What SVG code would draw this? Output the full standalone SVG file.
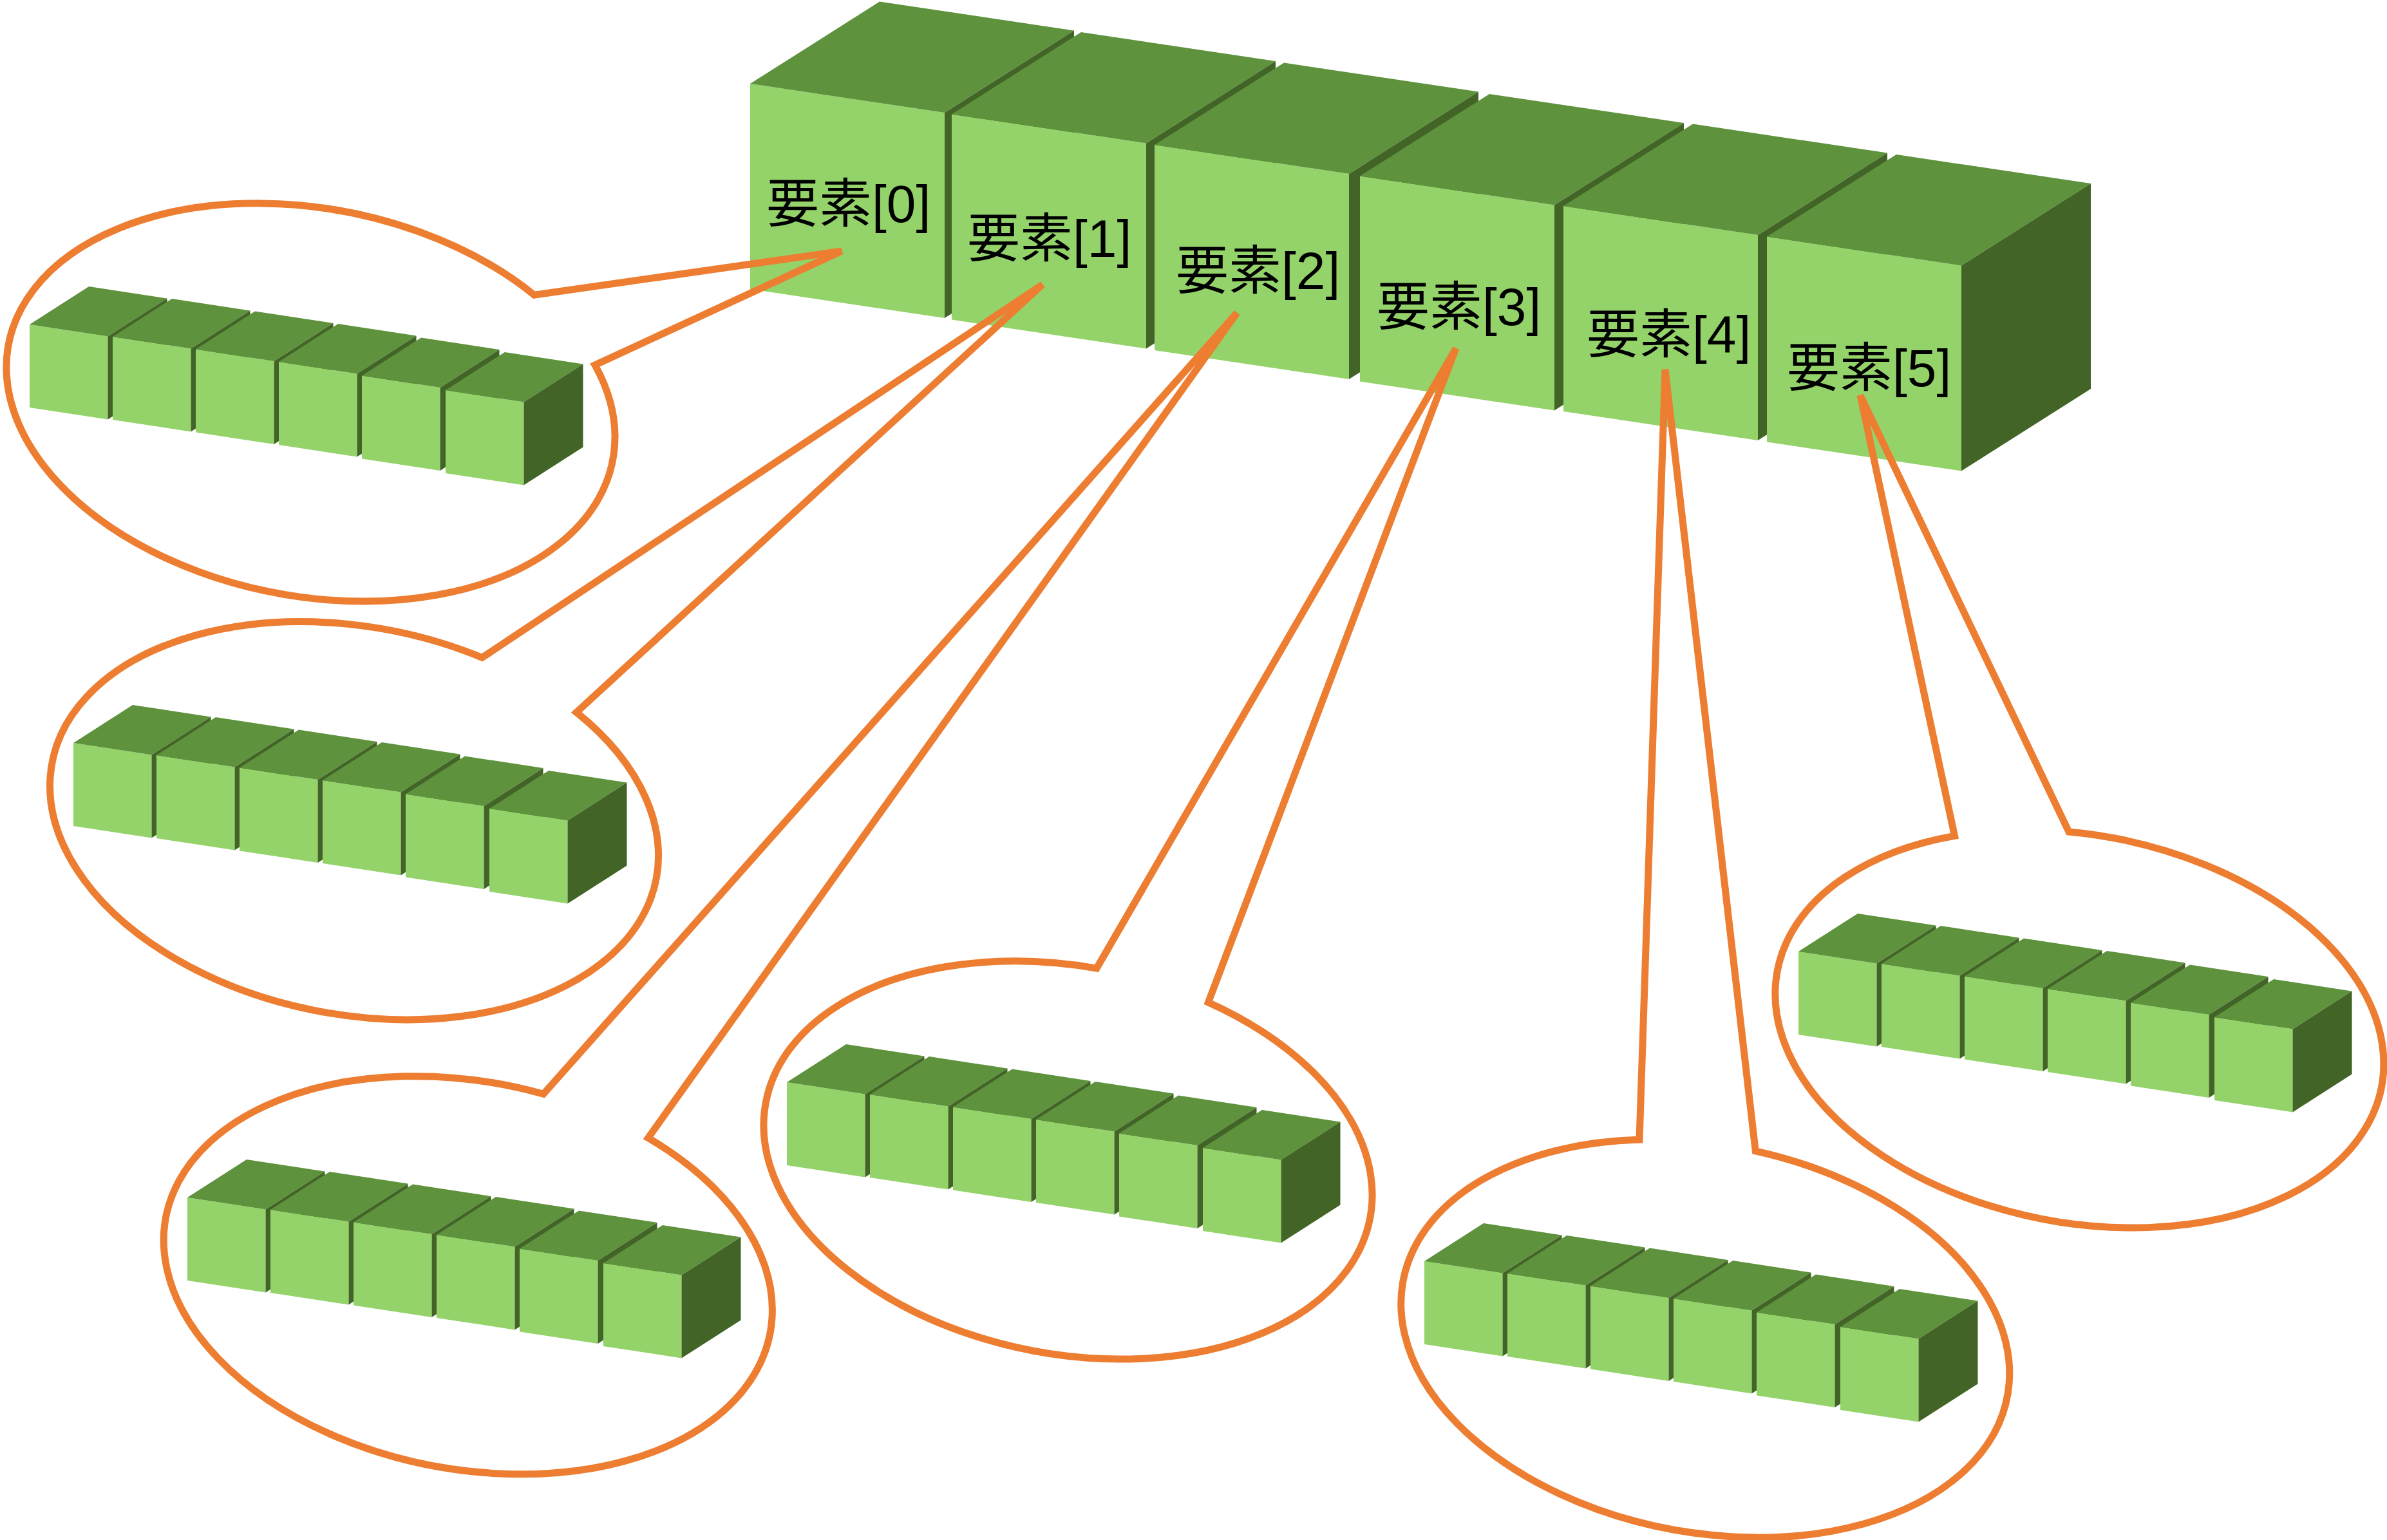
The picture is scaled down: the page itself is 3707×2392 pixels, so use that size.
<svg xmlns="http://www.w3.org/2000/svg" width="3707" height="2392" viewBox="0 0 3707 2392">
<style>
.f{fill:#94D36A}.t{fill:#5E923D}.s{fill:#426527}
.c{fill:none;stroke:#ED7D31;stroke-width:11;stroke-linejoin:miter;stroke-miterlimit:4}
.l{font-family:"Liberation Sans","Noto Sans CJK JP",sans-serif;font-size:82px;fill:#000}
</style>
<defs>
<g id="bc"><polygon class="f" points="0,0 302,45 302,364 0,319"/><polygon class="t" points="0,0 201,-127.5 503,-82.5 302,45"/><polygon class="s" points="302,45 503,-82.5 503,236.5 302,364"/></g>
<g id="mc"><polygon class="f" points="0,0 121.5,18.5 121.5,147.5 0,129"/><polygon class="t" points="0,0 92,-59 213.5,-40.5 121.5,18.5"/><polygon class="s" points="121.5,18.5 213.5,-40.5 213.5,88.5 121.5,147.5"/></g>
<g id="mini"><use href="#mc" x="0" y="0"/><use href="#mc" x="129" y="19"/><use href="#mc" x="258" y="38.5"/><use href="#mc" x="387" y="58"/><use href="#mc" x="516" y="79.5"/><use href="#mc" x="646" y="102"/></g>
</defs>
<rect width="3707" height="2392" fill="#fff"/>
<g id="main-array">
<g id="element-0"><use href="#bc" x="1165" y="130"/></g>
<g id="element-1"><use href="#bc" x="1478" y="177.5"/></g>
<g id="element-2"><use href="#bc" x="1793" y="225"/></g>
<g id="element-3"><use href="#bc" x="2112" y="273.5"/></g>
<g id="element-4"><use href="#bc" x="2428" y="320"/></g>
<g id="element-5"><use href="#bc" x="2744" y="367.5"/></g>
</g>
<g id="callout-0"><path class="c" d="M923.9,566.9A477.7,301 10.9 1 1 829.6,458.2L1307,390Z"/><use href="#mini" x="46" y="504"/></g>
<g id="callout-1"><path class="c" d="M895.2,1106.4A477.7,301 10.9 1 1 748.8,1021.4L1619,442Z"/><use href="#mini" x="114" y="1154"/></g>
<g id="callout-2"><path class="c" d="M1006.6,1767.5A477.7,301 10.9 1 1 843.9,1699.3L1921,486Z"/><use href="#mini" x="291" y="1860"/></g>
<g id="callout-3"><path class="c" d="M1876.5,1556.9A477.7,301 10.9 1 1 1703,1504.1L2261,541Z"/><use href="#mini" x="1222" y="1681"/></g>
<g id="callout-4"><path class="c" d="M2726.3,1787.8A477.7,301 10.9 1 1 2546,1770.2L2586,574Z"/><use href="#mini" x="2212" y="1959"/></g>
<g id="callout-5"><path class="c" d="M3212.9,1292A477.7,301 10.9 1 1 3035.5,1298.3L2889,614Z"/><use href="#mini" x="2793" y="1478"/></g>
<g id="labels">
<text class="l" x="1190" y="345">要素[0]</text>
<text class="l" x="1502" y="399">要素[1]</text>
<text class="l" x="1826" y="449">要素[2]</text>
<text class="l" x="2138" y="505">要素[3]</text>
<text class="l" x="2464" y="548">要素[4]</text>
<text class="l" x="2775" y="600">要素[5]</text>
</g>
</svg>
